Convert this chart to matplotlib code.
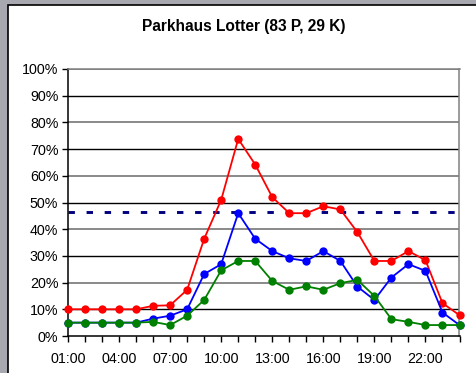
import matplotlib
matplotlib.use("Agg")
import matplotlib.pyplot as plt
from matplotlib.patches import Rectangle
from matplotlib.ticker import FuncFormatter, MultipleLocator

plt.rcParams['font.family'] = ['Liberation Sans', 'DejaVu Sans']

# hourly occupancy in percent, 01:00 .. 24:00
hours = [f"{h:02d}:00" for h in range(1, 25)]
red = [10, 10, 10, 10, 10, 11.3, 11.5, 17.3, 36.4, 51, 73.8, 64.2,
       52, 46, 46, 48.6, 47.4, 38.9, 28.1, 28.1, 31.8, 28.4, 12.3, 7.8]
blue = [5, 5, 5, 5, 5, 6.5, 7.6, 10, 23.2, 26.9, 46, 36.4,
        31.8, 29.1, 28.1, 31.8, 28.1, 18.5, 13.5, 21.9, 26.9, 24.4, 8.8, 4.1]
green = [5, 5, 5, 5, 5, 5.3, 4.1, 7.6, 13.5, 24.6, 28.1, 28.1,
         20.6, 17.3, 18.6, 17.3, 19.8, 21, 15, 6.3, 5.3, 4.1, 4.1, 4.1]
average = 46.4
label_hours = ["01:00", "04:00", "07:00", "10:00", "13:00", "16:00", "19:00", "22:00"]

fig = plt.figure(figsize=(4.77, 3.73), dpi=100, facecolor='#a8a8b0')
# white chart sheet with black frame
fig.patches.append(Rectangle((8 / 477, -0.1), 1.1, 1 - 5 / 373 + 0.1,
                             transform=fig.transFigure, facecolor='white',
                             edgecolor='black', linewidth=1.2, zorder=-5))

ax = fig.add_axes([68 / 477, 1 - 336 / 373, (459.5 - 68) / 477, (336 - 69) / 373])
ax.set_zorder(2)
ax.set_facecolor('white')

x = list(range(len(hours)))
ax.axhline(average, color='#000080', linewidth=2.1, dashes=(2.2, 4.0), zorder=2)

for vals, col in [(red, '#ff0000'), (blue, '#0000ff'), (green, '#008000')]:
    ax.plot(x, vals, color=col, linewidth=1.3, marker='o', markersize=6,
            markeredgewidth=0, zorder=3, clip_on=False)

for g in range(10, 101, 10):
    ax.axhline(g, color='black' if g % 20 else '#808080',
               linewidth=1.0 if g % 20 else 1.3, zorder=1)

ax.set_xlim(0, 23)
ax.set_ylim(0, 100)
ax.yaxis.set_major_locator(MultipleLocator(10))
ax.yaxis.set_major_formatter(FuncFormatter(lambda v, p: f"{v:.0f}%"))
ax.set_xticks(x)
ax.set_xticklabels([h if h in label_hours else "" for h in hours])

ax.tick_params(axis='both', direction='out', length=4, width=1, colors='black',
               labelsize=10.3)
ax.tick_params(axis='x', pad=7.5)
ax.tick_params(axis='y', pad=3)

ax.spines['left'].set_color('black')
ax.spines['bottom'].set_color('black')
ax.spines['top'].set_color('#808080')
ax.spines['right'].set_color('#808080')
for s in ax.spines.values():
    s.set_linewidth(1.1)

fig.text(244 / 477, 1 - 27 / 373, "Parkhaus Lotter (83 P, 29 K)",
         ha='center', va='center', fontsize=11.2, fontweight='bold')

fig.savefig("out.png", dpi=100, facecolor=fig.get_facecolor())
